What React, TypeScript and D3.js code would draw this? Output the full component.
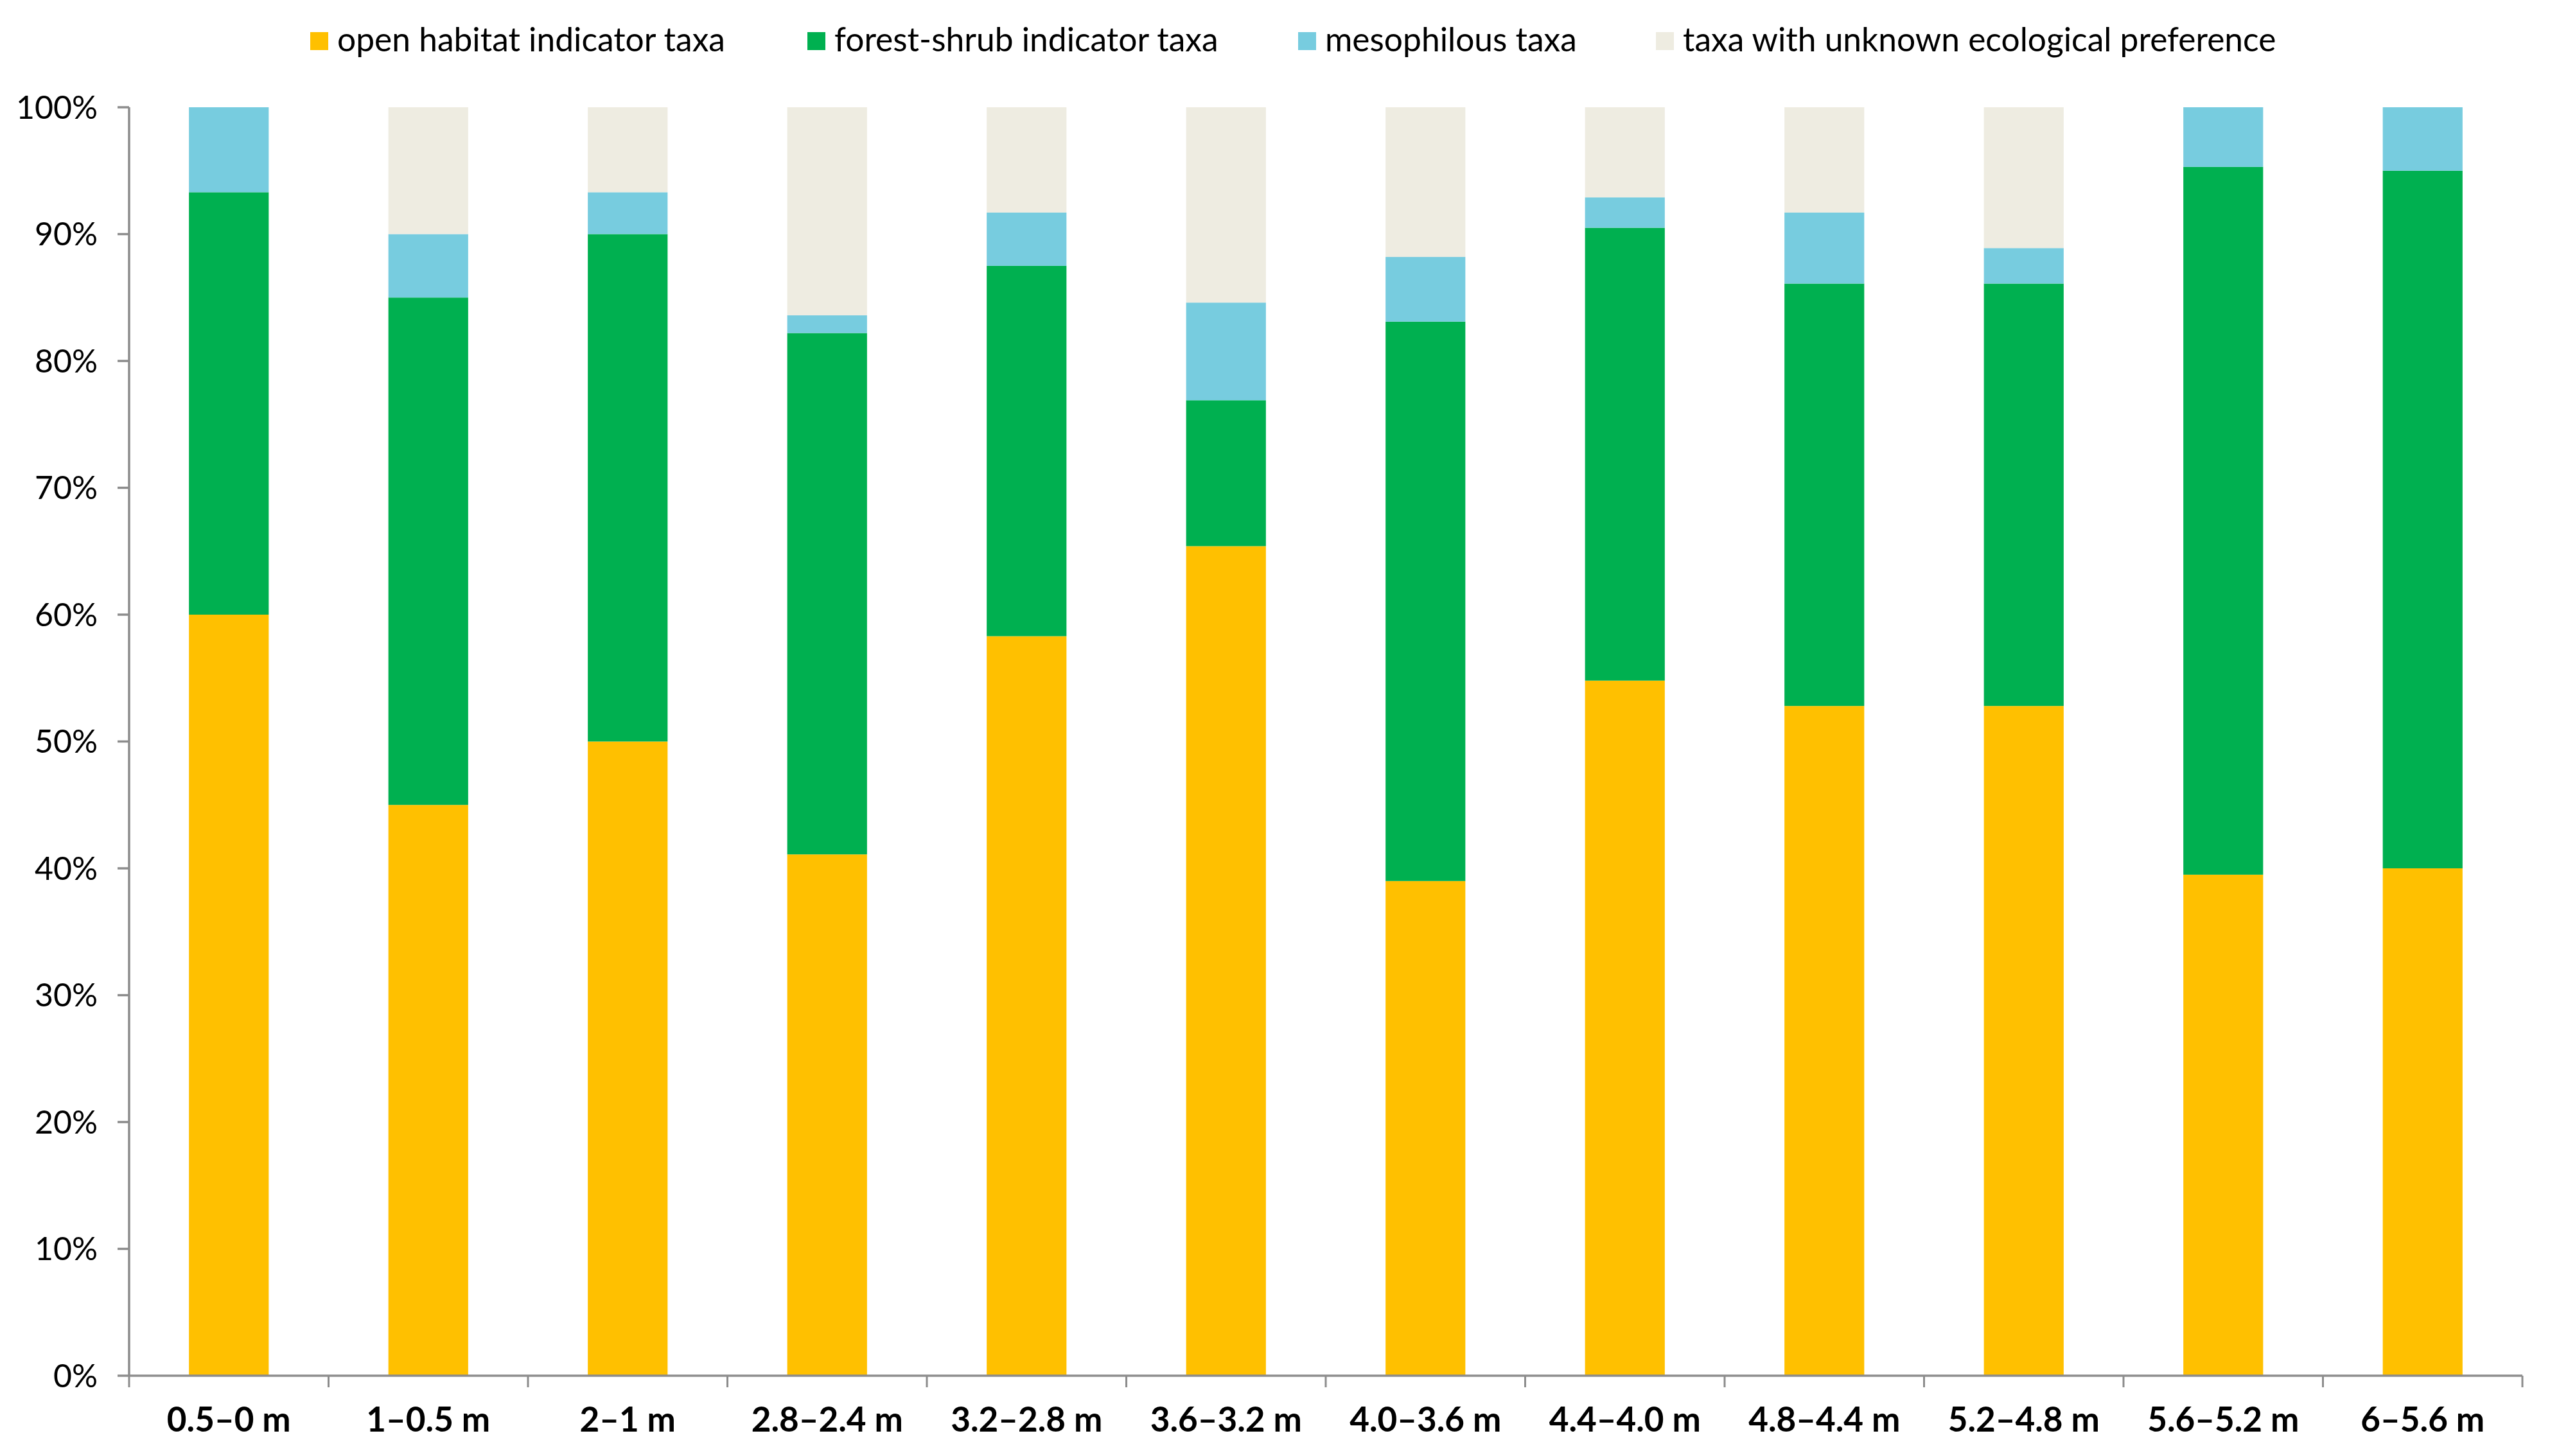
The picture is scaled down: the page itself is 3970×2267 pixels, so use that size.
import React from "react";
import * as d3 from "d3";

const categories = [
  "0.5–0 m", "1–0.5 m", "2–1 m", "2.8–2.4 m", "3.2–2.8 m", "3.6–3.2 m",
  "4.0–3.6 m", "4.4–4.0 m", "4.8–4.4 m", "5.2–4.8 m", "5.6–5.2 m", "6–5.6 m",
];
const openHabitat = [60.0, 45.0, 50.0, 41.1, 58.3, 65.4, 39.0, 54.8, 52.8, 52.8, 39.5, 40.0];
const forestShrub = [33.3, 40.0, 40.0, 41.1, 29.2, 11.5, 44.1, 35.7, 33.3, 33.3, 55.8, 55.0];
const mesophilous = [6.7, 5.0, 3.3, 1.4, 4.2, 7.7, 5.1, 2.4, 5.6, 2.8, 4.7, 5.0];
const unknownPref = [0.0, 10.0, 6.7, 16.4, 8.3, 15.4, 11.8, 7.1, 8.3, 11.1, 0.0, 0.0];
const seriesNames = [
  "open habitat indicator taxa",
  "forest-shrub indicator taxa",
  "mesophilous taxa",
  "taxa with unknown ecological preference",
];
const seriesColors = ["#FFC000", "#00B050", "#77CCDF", "#EEECE1"];
const yTicks = [0, 10, 20, 30, 40, 50, 60, 70, 80, 90, 100];

const W = 3970;
const H = 2267;
const M = { left: 201, right: 3927, top: 167, bottom: 2142 };
const FONT = "Lato, 'Open Sans', sans-serif";
const AXIS = "#8C8C8C";

export default function App() {
  const keys = ["open", "forest", "meso", "unknown"];
  const table = categories.map((c, i) => ({
    cat: c,
    open: openHabitat[i],
    forest: forestShrub[i],
    meso: mesophilous[i],
    unknown: unknownPref[i],
  }));
  const stacked = d3.stack<any>().keys(keys)(table);

  const x = d3.scaleBand<string>().domain(categories).range([M.left, M.right]).paddingInner(0.6).paddingOuter(0.3);
  const xOuter = d3.scaleBand<string>().domain(categories).range([M.left, M.right]);
  const y = d3.scaleLinear().domain([0, 100]).range([M.bottom, M.top]);

  const legendX = [483, 1257, 2021, 2578];

  return (
    <svg
      width={W}
      height={H}
      viewBox={`0 0 ${W} ${H}`}
      style={{ position: "absolute", left: 0, top: 0, background: "#fff" }}
    >
      <rect x={0} y={0} width={W} height={H} fill="#fff" />
      {/* bars */}
      {stacked.map((s, si) => (
        <g key={si}>
          {s.map((d, i) => {
            const h = y(d[0]) - y(d[1]);
            if (h <= 0.01) return null;
            return (
              <rect
                key={i}
                x={x(categories[i])}
                width={x.bandwidth()}
                y={y(d[1])}
                height={h}
                fill={seriesColors[si]}
              />
            );
          })}
        </g>
      ))}
      {/* y axis */}
      <line x1={M.left} x2={M.left} y1={y(100)} y2={y(0)} stroke={AXIS} strokeWidth={3.5} />
      {yTicks.map((t) => (
        <g key={t}>
          <line x1={M.left - 18} x2={M.left} y1={y(t)} y2={y(t)} stroke={AXIS} strokeWidth={3.5} />
          <text
            x={152}
            y={y(t)}
            dy="0.35em"
            textAnchor="end"
            fontFamily={FONT}
            fontSize={50}
            fill="#000"
          >
            {d3.format("d")(t) + "%"}
          </text>
        </g>
      ))}
      {/* x axis */}
      <line x1={M.left} x2={M.right} y1={y(0)} y2={y(0)} stroke={AXIS} strokeWidth={3.5} />
      {categories.map((c, i) => (
        <line
          key={"t" + i}
          x1={xOuter(c)}
          x2={xOuter(c)}
          y1={y(0)}
          y2={y(0) + 18}
          stroke={AXIS}
          strokeWidth={3}
        />
      ))}
      <line x1={M.right} x2={M.right} y1={y(0)} y2={y(0) + 18} stroke={AXIS} strokeWidth={3} />
      {categories.map((c) => (
        <text
          key={"l" + c}
          x={(xOuter(c) as number) + xOuter.bandwidth() / 2}
          y={2229}
          textAnchor="middle"
          fontFamily={FONT}
          fontWeight="bold"
          fontSize={53}
          fill="#000"
        >
          {c}
        </text>
      ))}
      {/* legend */}
      {seriesNames.map((n, i) => (
        <g key={n}>
          <rect x={legendX[i]} y={50} width={28} height={28} fill={seriesColors[i]} />
          <text x={legendX[i] + 42} y={80} fontFamily={FONT} fontSize={51.5} fill="#000">
            {n}
          </text>
        </g>
      ))}
    </svg>
  );
}
